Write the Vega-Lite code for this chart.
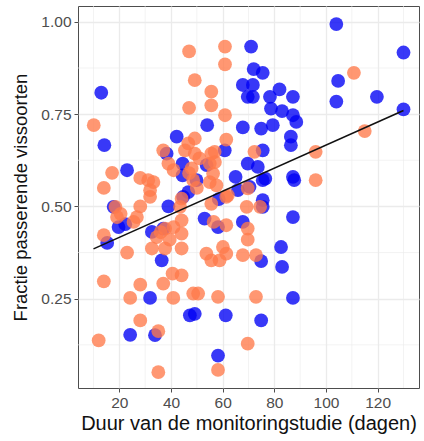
{
  "$schema": "https://vega.github.io/schema/vega-lite/v6.json",
  "autosize": {"type": "none"},
  "padding": {"left": 78, "top": 6, "right": 5, "bottom": 53},
  "width": 341,
  "height": 382,
  "config": {
    "view": {"stroke": "#4d4d4d", "strokeWidth": 1},
    "font": "Liberation Sans",
    "axis": {"domain": false, "gridColor": "#ebebeb", "gridWidth": 1.3, "tickColor": "#4d4d4d", "tickSize": 4, "labelColor": "#4d4d4d", "labelFontSize": 15.5, "titleFontSize": 18.5, "titleFontWeight": "normal", "titleColor": "#111"},
    "axisX": {"titleFontSize": 20}
  },
  "layer": [
    {
      "data": {"values": [{"v": 10}, {"v": 30}, {"v": 50}, {"v": 70}, {"v": 90}, {"v": 110}, {"v": 130}]},
      "mark": {"type": "rule", "color": "#ebebeb", "strokeWidth": 0.6},
      "encoding": {"x": {"field": "v", "type": "quantitative"}}
    },
    {
      "data": {"values": [{"w": 0.125}, {"w": 0.375}, {"w": 0.625}, {"w": 0.875}]},
      "mark": {"type": "rule", "color": "#ebebeb", "strokeWidth": 0.6},
      "encoding": {"y": {"field": "w", "type": "quantitative"}}
    },
    {
      "data": {"values": [
        {"d":104,"f":0.994,"g":"b"},{"d":130,"f":0.917,"g":"b"},{"d":71,"f":0.933,"g":"b"},{"d":72,"f":0.872,"g":"b"},{"d":75.5,"f":0.862,"g":"b"},
        {"d":67.8,"f":0.829,"g":"b"},{"d":71.7,"f":0.829,"g":"b"},{"d":69.7,"f":0.797,"g":"b"},{"d":71.7,"f":0.797,"g":"b"},{"d":78.3,"f":0.797,"g":"b"},
        {"d":82,"f":0.817,"g":"b"},{"d":87.2,"f":0.797,"g":"b"},{"d":78.7,"f":0.765,"g":"b"},{"d":83,"f":0.758,"g":"b"},{"d":87.2,"f":0.747,"g":"b"},
        {"d":88.5,"f":0.729,"g":"b"},{"d":79.4,"f":0.72,"g":"b"},{"d":74.9,"f":0.711,"g":"b"},{"d":67.8,"f":0.714,"g":"b"},{"d":54,"f":0.72,"g":"b"},
        {"d":104.7,"f":0.84,"g":"b"},{"d":104,"f":0.784,"g":"b"},{"d":119.7,"f":0.797,"g":"b"},{"d":130,"f":0.763,"g":"b"},{"d":13,"f":0.808,"g":"b"},
        {"d":14.2,"f":0.666,"g":"b"},{"d":42.2,"f":0.689,"g":"b"},{"d":86.4,"f":0.689,"g":"b"},{"d":86.4,"f":0.666,"g":"b"},{"d":75.5,"f":0.652,"g":"b"},
        {"d":60.8,"f":0.652,"g":"b"},{"d":38.3,"f":0.643,"g":"b"},{"d":69.7,"f":0.616,"g":"b"},{"d":73.6,"f":0.607,"g":"b"},{"d":44.5,"f":0.616,"g":"b"},
        {"d":53.8,"f":0.612,"g":"b"},{"d":23,"f":0.598,"g":"b"},{"d":65,"f":0.58,"g":"b"},{"d":75.5,"f":0.571,"g":"b"},{"d":76.5,"f":0.575,"g":"b"},
        {"d":87.2,"f":0.58,"g":"b"},{"d":87.7,"f":0.571,"g":"b"},{"d":44.5,"f":0.584,"g":"b"},{"d":49.9,"f":0.571,"g":"b"},{"d":65.9,"f":0.544,"g":"b"},
        {"d":70.4,"f":0.553,"g":"b"},{"d":46.7,"f":0.539,"g":"b"},{"d":44.7,"f":0.526,"g":"b"},{"d":75.5,"f":0.517,"g":"b"},{"d":75.5,"f":0.499,"g":"b"},
        {"d":39,"f":0.5,"g":"b"},{"d":17.8,"f":0.499,"g":"b"},{"d":19.7,"f":0.444,"g":"b"},{"d":22.3,"f":0.452,"g":"b"},{"d":87.2,"f":0.471,"g":"b"},
        {"d":53,"f":0.467,"g":"b"},{"d":58.2,"f":0.444,"g":"b"},{"d":67.8,"f":0.458,"g":"b"},{"d":32.6,"f":0.431,"g":"b"},{"d":15.3,"f":0.401,"g":"b"},
        {"d":36.4,"f":0.354,"g":"b"},{"d":82.6,"f":0.39,"g":"b"},{"d":83,"f":0.336,"g":"b"},{"d":74.9,"f":0.352,"g":"b"},{"d":87.2,"f":0.252,"g":"b"},
        {"d":31.9,"f":0.252,"g":"b"},{"d":47.3,"f":0.205,"g":"b"},{"d":49.2,"f":0.209,"g":"b"},{"d":61.2,"f":0.205,"g":"b"},{"d":74.9,"f":0.191,"g":"b"},
        {"d":24.2,"f":0.152,"g":"b"},{"d":33.8,"f":0.151,"g":"b"},{"d":58.2,"f":0.096,"g":"b"},{"d":58.5,"f":0.52,"g":"b"},{"d":37,"f":0.44,"g":"b"},
        {"d":47,"f":0.92,"g":"o"},{"d":60.9,"f":0.933,"g":"o"},{"d":60.9,"f":0.885,"g":"o"},{"d":49.2,"f":0.842,"g":"o"},{"d":55.6,"f":0.811,"g":"o"},
        {"d":55.6,"f":0.774,"g":"o"},{"d":47,"f":0.767,"g":"o"},{"d":60.9,"f":0.747,"g":"o"},{"d":110.8,"f":0.862,"g":"o"},{"d":115,"f":0.704,"g":"o"},
        {"d":96,"f":0.648,"g":"o"},{"d":96,"f":0.571,"g":"o"},{"d":10.1,"f":0.72,"g":"o"},{"d":49.2,"f":0.684,"g":"o"},{"d":61.4,"f":0.681,"g":"o"},
        {"d":37,"f":0.652,"g":"o"},{"d":46.7,"f":0.671,"g":"o"},{"d":45.4,"f":0.652,"g":"o"},{"d":49.2,"f":0.643,"g":"o"},{"d":55.6,"f":0.643,"g":"o"},
        {"d":72.3,"f":0.648,"g":"o"},{"d":56.9,"f":0.648,"g":"o"},{"d":39,"f":0.616,"g":"o"},{"d":41,"f":0.598,"g":"o"},{"d":48,"f":0.603,"g":"o"},
        {"d":55,"f":0.616,"g":"o"},{"d":17.2,"f":0.591,"g":"o"},{"d":28.1,"f":0.577,"g":"o"},{"d":31.2,"f":0.571,"g":"o"},{"d":33.2,"f":0.566,"g":"o"},
        {"d":14,"f":0.55,"g":"o"},{"d":31.9,"f":0.544,"g":"o"},{"d":48.6,"f":0.571,"g":"o"},{"d":55,"f":0.566,"g":"o"},{"d":69.7,"f":0.549,"g":"o"},
        {"d":31.9,"f":0.526,"g":"o"},{"d":44.1,"f":0.521,"g":"o"},{"d":61.4,"f":0.526,"g":"o"},{"d":55.6,"f":0.507,"g":"o"},{"d":18.5,"f":0.499,"g":"o"},
        {"d":28.1,"f":0.5,"g":"o"},{"d":43.5,"f":0.499,"g":"o"},{"d":69.3,"f":0.499,"g":"o"},{"d":74.5,"f":0.499,"g":"o"},{"d":19.1,"f":0.471,"g":"o"},
        {"d":26.8,"f":0.471,"g":"o"},{"d":25.5,"f":0.458,"g":"o"},{"d":61.4,"f":0.449,"g":"o"},{"d":56.5,"f":0.458,"g":"o"},{"d":44.1,"f":0.462,"g":"o"},
        {"d":41,"f":0.444,"g":"o"},{"d":69.7,"f":0.44,"g":"o"},{"d":14,"f":0.422,"g":"o"},{"d":37.7,"f":0.44,"g":"o"},{"d":34.5,"f":0.417,"g":"o"},
        {"d":44.1,"f":0.426,"g":"o"},{"d":69.7,"f":0.41,"g":"o"},{"d":32.6,"f":0.386,"g":"o"},{"d":37.7,"f":0.386,"g":"o"},{"d":23,"f":0.375,"g":"o"},
        {"d":44.1,"f":0.386,"g":"o"},{"d":53.7,"f":0.372,"g":"o"},{"d":60.1,"f":0.39,"g":"o"},{"d":61.4,"f":0.372,"g":"o"},{"d":55.6,"f":0.354,"g":"o"},
        {"d":58.8,"f":0.354,"g":"o"},{"d":67.8,"f":0.368,"g":"o"},{"d":72.9,"f":0.368,"g":"o"},{"d":40.6,"f":0.318,"g":"o"},{"d":44.1,"f":0.313,"g":"o"},
        {"d":14,"f":0.297,"g":"o"},{"d":37,"f":0.291,"g":"o"},{"d":28.1,"f":0.288,"g":"o"},{"d":24.2,"f":0.252,"g":"o"},{"d":40.9,"f":0.252,"g":"o"},
        {"d":48.6,"f":0.264,"g":"o"},{"d":50.5,"f":0.264,"g":"o"},{"d":58.2,"f":0.255,"g":"o"},{"d":72.9,"f":0.255,"g":"o"},{"d":28.1,"f":0.191,"g":"o"},
        {"d":35.1,"f":0.162,"g":"o"},{"d":12,"f":0.137,"g":"o"},{"d":69.7,"f":0.128,"g":"o"},{"d":35.1,"f":0.051,"g":"o"},{"d":58.2,"f":0.057,"g":"o"},
        {"d":57.6,"f":0.557,"g":"o"},{"d":56.3,"f":0.589,"g":"o"},{"d":51,"f":0.63,"g":"o"},{"d":57,"f":0.62,"g":"o"},{"d":50,"f":0.55,"g":"o"},
        {"d":39.5,"f":0.41,"g":"o"},{"d":36,"f":0.43,"g":"o"},{"d":62,"f":0.53,"g":"o"},{"d":47,"f":0.59,"g":"o"},{"d":20.5,"f":0.48,"g":"o"}
      ]},
      "mark": {"type": "circle", "size": 190, "opacity": 0.78},
      "encoding": {
        "x": {"field": "d", "type": "quantitative", "scale": {"domain": [4, 136], "nice": false, "zero": false},
          "axis": {"title": "Duur van de monitoringstudie (dagen)", "values": [20, 40, 60, 80, 100, 120], "labelPadding": 3, "titlePadding": 3}},
        "y": {"field": "f", "type": "quantitative", "scale": {"domain": [0.008, 1.043], "nice": false, "zero": false},
          "axis": {"title": "Fractie passerende vissoorten", "values": [0.25, 0.5, 0.75, 1.0], "format": ".2f", "labelPadding": 3, "titlePadding": 10}},
        "color": {"field": "g", "type": "nominal", "scale": {"domain": ["b", "o"], "range": ["#0000f5", "#ff7a4a"]}, "legend": null},
        "order": {"field": "g", "type": "nominal"}
      }
    },
    {
      "data": {"values": [{"d": 10, "f": 0.385}, {"d": 130, "f": 0.76}]},
      "mark": {"type": "line", "color": "#111", "strokeWidth": 1.6},
      "encoding": {
        "x": {"field": "d", "type": "quantitative"},
        "y": {"field": "f", "type": "quantitative"}
      }
    }
  ]
}
